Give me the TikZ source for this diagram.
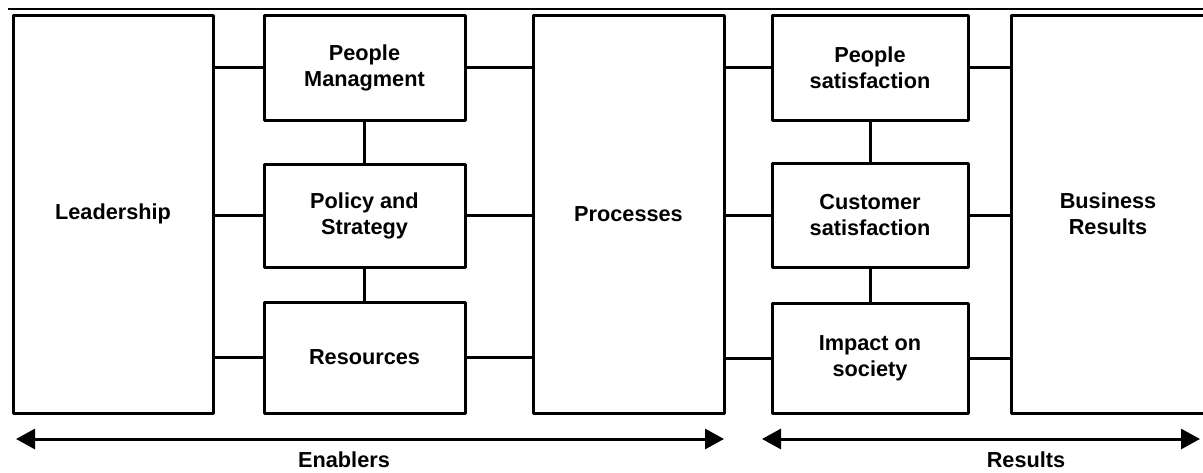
\documentclass[tikz,border=0pt]{standalone}
\usepackage{fontspec}
\setmainfont{Liberation Sans}
\usetikzlibrary{arrows.meta}
\begin{document}
\begin{tikzpicture}[x=1pt,y=-1pt,
  txt/.style={font=\bfseries\fontsize{21.7pt}{26pt}\selectfont, align=center},
  box/.style={txt, draw, line width=3pt, line join=round, inner sep=0pt},
  link/.style={line width=3pt},
  span/.style={line width=3pt, {Triangle[length=19pt,width=20pt]}-{Triangle[length=19pt,width=20pt]}},
  lbl/.style={txt, anchor=base, inner sep=0pt}]
\useasboundingbox (0,0) rectangle (1203,472);

% header rule
\coordinate (ruleL) at (8,8.5);
\coordinate (ruleR) at (1215,8.5);
\draw[line width=2pt] (ruleL) -- (ruleR);

% enablers
\node[box, minimum width=200pt, minimum height=398pt] (lead) at (113,214) {Leadership};
\node[box, minimum width=201pt, minimum height=105pt] (pm)   at (364.5,67.5) {People\\Managment};
\node[box, minimum width=201pt, minimum height=103pt] (pol)  at (364.5,215.5) {Policy and\\Strategy};
\node[box, minimum width=201pt, minimum height=111pt] (res)  at (364.5,357.5) {Resources};
\node[box, minimum width=191pt, minimum height=398pt] (proc) at (628.5,214) {Processes};

% results
\node[box, minimum width=196pt, minimum height=105pt] (psat) at (870,67.5) {People\\satisfaction};
\node[box, minimum width=196pt, minimum height=104pt] (csat) at (870,215.5) {Customer\\satisfaction};
\node[box, minimum width=196pt, minimum height=110pt] (imp)  at (870,358) {Impact on\\society};
\node[box, minimum width=194pt, minimum height=398pt] (bus)  at (1108,214) {Business\\Results};

% horizontal links
\foreach \n in {pm,pol,res}{
  \draw[link] (\n.west) -- (\n.west -| lead.east);
  \draw[link] (\n.east) -- (\n.east -| proc.west);
}
\foreach \n in {psat,csat,imp}{
  \draw[link] (\n.west) -- (\n.west -| proc.east);
  \draw[link] (\n.east) -- (\n.east -| bus.west);
}

% vertical links
\draw[link] (pm.south) -- (pol.north);
\draw[link] (pol.south) -- (res.north);
\draw[link] (psat.south) -- (csat.north);
\draw[link] (csat.south) -- (imp.north);

% spans
\coordinate (enL) at (16,439);
\coordinate (enR) at (724,439);
\coordinate (reL) at (762,439);
\coordinate (reR) at (1200,439);
\draw[span] (enL) -- (enR);
\draw[span] (reL) -- (reR);
\node[lbl] (enabl) at (344,467) {Enablers};
\node[lbl] (resul) at (1026,467) {Results};
\end{tikzpicture}
\end{document}
